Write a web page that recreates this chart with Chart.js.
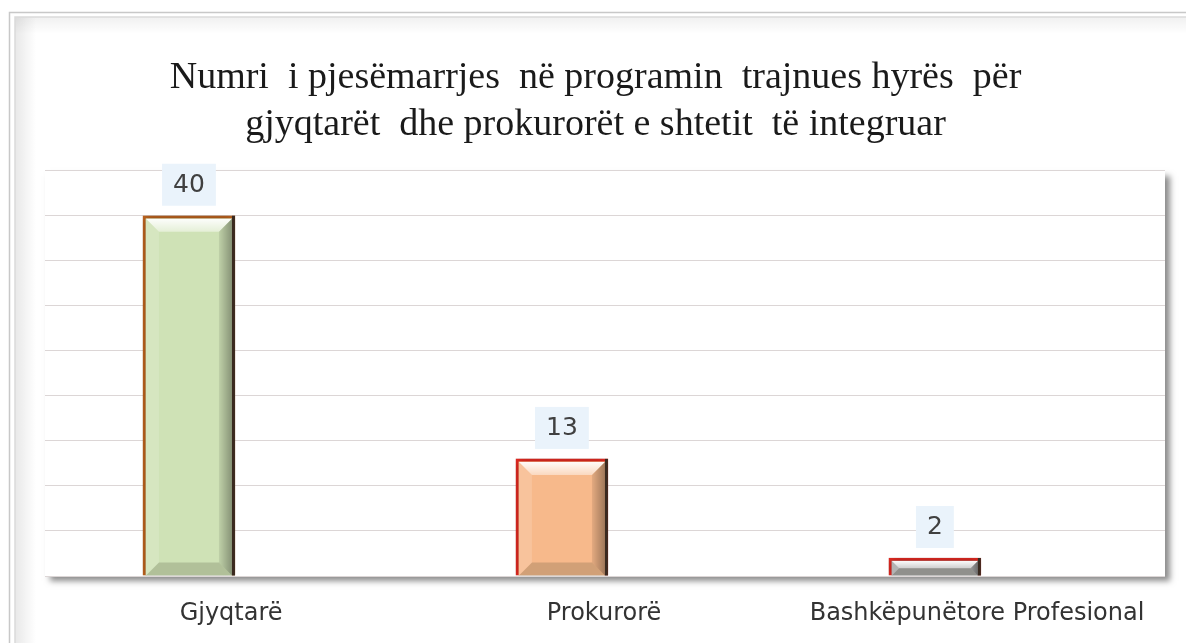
<!DOCTYPE html>
<html>
<head>
<meta charset="utf-8">
<script src="https://cdn.jsdelivr.net/npm/chart.js@4/dist/chart.umd.min.js"></script>
<style>
  html, body { margin: 0; padding: 0; background: #fff; }
  #wrap { width: 1186px; height: 643px; position: relative; }
</style>
</head>
<body>
<div id="wrap"><canvas id="c"></canvas></div>
<script>
// chart data
const categories = ['Gjyqtarë', 'Prokurorë', 'Bashkëpunëtore Profesional'];
const values = [40, 13, 2];
const fills = ['#cfe2b6', '#f7b98b', '#a6a6a6'];
const borders = ['#c0651f', '#e32a22', '#e32a22'];
// trailing spaces nudge the centred title a little left, like the original
const titleLines = ['Numri  i pjesëmarrjes  në programin  trajnues hyrës  për  ', 'gjyqtarët  dhe prokurorët e shtetit  të integruar  '];

// labels sit at the category centre, bars are drawn a bit left of it (as in the excel original)
const labelShift = 0.113;

// outer frame like the excel chart border
const framePlugin = {
    id: 'frame',
    beforeDraw(chart) {
        const ctx = chart.ctx;
        const W = chart.width, H = chart.height;
        ctx.save();
        ctx.fillStyle = '#fff';
        ctx.fillRect(0, 0, W, H);
        // soft inner shading
        let g = ctx.createLinearGradient(15, 0, 36, 0);
        g.addColorStop(0, 'rgba(0,0,0,0.09)');
        g.addColorStop(1, 'rgba(0,0,0,0)');
        ctx.fillStyle = g;
        ctx.fillRect(15, 17, 21, H - 17);
        g = ctx.createLinearGradient(0, 17, 0, 34);
        g.addColorStop(0, 'rgba(0,0,0,0.06)');
        g.addColorStop(1, 'rgba(0,0,0,0)');
        ctx.fillStyle = g;
        ctx.fillRect(15, 17, W - 15, 17);
        ctx.strokeStyle = '#c8c8c8';
        ctx.lineWidth = 1.5;
        ctx.beginPath();
        ctx.moveTo(9.5, H); ctx.lineTo(9.5, 12.5); ctx.lineTo(W, 12.5);
        ctx.stroke();
        ctx.strokeStyle = '#dadada';
        ctx.beginPath();
        ctx.moveTo(15, H); ctx.lineTo(15, 17); ctx.lineTo(W, 17);
        ctx.stroke();

        // plot area with drop shadow
        const ca = chart.chartArea;
        ctx.shadowColor = 'rgba(0,0,0,0.45)';
        ctx.shadowBlur = 6;
        ctx.shadowOffsetX = 5;
        ctx.shadowOffsetY = 5;
        ctx.fillStyle = '#fff';
        ctx.fillRect(ca.left, ca.top, ca.right - ca.left, ca.bottom - ca.top);
        ctx.restore();
    }
};

// bevel + value boxes
const barStylePlugin = {
    id: 'barStyle',
    beforeDatasetsDraw(chart) {
        const ctx = chart.ctx;
        ctx.save();
        ctx.shadowColor = 'rgba(0,0,0,0.35)';
        ctx.shadowBlur = 8;
        ctx.shadowOffsetX = 0;
        ctx.shadowOffsetY = 0;
    },
    afterDatasetsDraw(chart) {
        const ctx = chart.ctx;
        ctx.restore();
        const meta = chart.getDatasetMeta(0);
        meta.data.forEach((bar, i) => {
            const bw = 3;
            const l = bar.x - bar.width / 2 + bw, r = bar.x + bar.width / 2 - bw;
            const t = bar.y + bw, b = bar.base;
            const bev = Math.min(13, (b - t) / 2, (r - l) / 2);
            ctx.save();
            // top highlight
            let g = ctx.createLinearGradient(0, t, 0, t + bev);
            g.addColorStop(0, 'rgba(255,255,255,0.95)');
            g.addColorStop(1, 'rgba(255,255,255,0.45)');
            ctx.fillStyle = g;
            ctx.beginPath();
            ctx.moveTo(l, t); ctx.lineTo(r, t); ctx.lineTo(r - bev, t + bev); ctx.lineTo(l + bev, t + bev);
            ctx.closePath(); ctx.fill();
            // bottom shade
            ctx.fillStyle = 'rgba(60,60,40,0.2)';
            ctx.beginPath();
            ctx.moveTo(l, b); ctx.lineTo(r, b); ctx.lineTo(r - bev, b - bev); ctx.lineTo(l + bev, b - bev);
            ctx.closePath(); ctx.fill();
            // right shade
            g = ctx.createLinearGradient(r - bev, 0, r, 0);
            g.addColorStop(0, 'rgba(0,0,0,0.08)');
            g.addColorStop(1, 'rgba(0,0,0,0.35)');
            ctx.fillStyle = g;
            ctx.beginPath();
            ctx.moveTo(r, t); ctx.lineTo(r, b); ctx.lineTo(r - bev, b - bev); ctx.lineTo(r - bev, t + bev);
            ctx.closePath(); ctx.fill();
            // left light
            ctx.fillStyle = 'rgba(255,255,255,0.15)';
            ctx.beginPath();
            ctx.moveTo(l, t); ctx.lineTo(l, b); ctx.lineTo(l + bev, b - bev); ctx.lineTo(l + bev, t + bev);
            ctx.closePath(); ctx.fill();
            // dark right edge
            ctx.strokeStyle = '#3a2a20';
            ctx.lineWidth = 3;
            ctx.beginPath();
            ctx.moveTo(r + 1.5, bar.y); ctx.lineTo(r + 1.5, b);
            ctx.stroke();

            // value label in a light blue box
            const txt = String(values[i]);
            ctx.font = '25px "DejaVu Sans"';
            const tw = ctx.measureText(txt).width;
            const bxW = tw + 22, bxH = 42;
            const cy = bar.y - 31;
            ctx.fillStyle = '#eaf3fb';
            ctx.fillRect(bar.x - bxW / 2, cy - bxH / 2, bxW, bxH);
            ctx.fillStyle = '#404040';
            ctx.textAlign = 'center';
            ctx.textBaseline = 'middle';
            ctx.fillText(txt, bar.x, cy + 1);
            ctx.restore();
        });
    }
};

new Chart(document.getElementById('c'), {
    type: 'bar',
    data: {
        datasets: [{
            data: values.map((v, i) => ({ x: i, y: v })),
            backgroundColor: fills,
            borderColor: borders,
            borderWidth: 3,
            borderSkipped: 'bottom',
            barThickness: 92
        }]
    },
    options: {
        responsive: true,
        maintainAspectRatio: false,
        animation: false,
        layout: { padding: { top: 43, left: 45, right: 21, bottom: 0 } },
        plugins: {
            legend: { display: false },
            tooltip: { enabled: false },
            title: {
                display: true,
                text: titleLines,
                color: '#1a1a1a',
                font: { family: '"Liberation Serif"', size: 38, weight: 'normal', lineHeight: 1.22 },
                padding: { top: 12, bottom: 23 }
            }
        },
        scales: {
            x: {
                type: 'linear',
                offset: false,
                min: -0.386,
                max: 2.617,
                grid: { display: false, tickLength: 0 },
                border: { display: false },
                afterBuildTicks: s => { s.ticks = categories.map((c, i) => ({ value: i + labelShift })); },
                afterFit: s => { s.height = 67; },
                ticks: {
                    callback: (v) => categories[Math.round(v - labelShift)],
                    color: '#333',
                    font: { family: '"DejaVu Sans"', size: 24 },
                    padding: 23,
                    maxRotation: 0,
                    autoSkip: false
                }
            },
            y: {
                min: 0,
                max: 45,
                ticks: { display: false, stepSize: 5 },
                grid: { color: '#dcd6d6', lineWidth: 1, drawTicks: false, tickLength: 0 },
                border: { display: false }
            }
        }
    },
    plugins: [framePlugin, barStylePlugin]
});
</script>
</body>
</html>
